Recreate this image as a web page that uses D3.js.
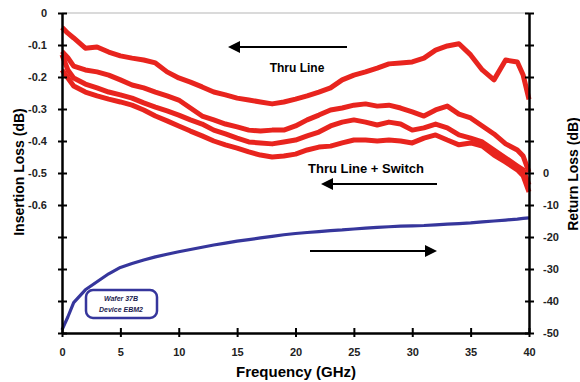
<!DOCTYPE html>
<html>
<head>
<meta charset="utf-8">
<script src="https://cdn.jsdelivr.net/npm/d3@7"></script>
<style>
  body { margin: 0; background: #fff; }
  svg { font-family: Arial, "Liberation Sans", sans-serif; }
</style>
</head>
<body>
<svg id="chart" width="580" height="382"></svg>
<script>
// частоти, ГГц
const freq = [0, 0.5, 1, 2, 3, 4, 5, 6, 7, 8, 9, 10, 11, 12, 13, 14, 15, 16, 17, 18, 19, 20,
  21, 22, 23, 24, 25, 26, 27, 28, 29, 30, 31, 32, 33, 34, 35, 36, 37, 38, 39, 39.5, 40];

// Insertion loss, dB (ліва вісь)
const thruLine = [-0.045, -0.063, -0.078, -0.11, -0.106, -0.122, -0.134, -0.141, -0.147, -0.156, -0.184,
  -0.203, -0.216, -0.231, -0.247, -0.256, -0.266, -0.272, -0.278, -0.284, -0.278, -0.269,
  -0.259, -0.247, -0.234, -0.209, -0.194, -0.184, -0.172, -0.159, -0.156, -0.153, -0.141,
  -0.116, -0.103, -0.096, -0.131, -0.178, -0.209, -0.147, -0.153, -0.194, -0.27];
const switchA = [-0.12, -0.14, -0.166, -0.178, -0.184, -0.194, -0.209, -0.225, -0.234, -0.247, -0.259,
  -0.272, -0.297, -0.322, -0.334, -0.347, -0.356, -0.366, -0.369, -0.366, -0.366, -0.353,
  -0.334, -0.319, -0.303, -0.297, -0.288, -0.284, -0.291, -0.288, -0.297, -0.309, -0.322,
  -0.303, -0.291, -0.316, -0.328, -0.353, -0.378, -0.409, -0.428, -0.447, -0.497];
const switchB = [-0.13, -0.178, -0.203, -0.222, -0.234, -0.247, -0.256, -0.266, -0.281, -0.294, -0.306,
  -0.319, -0.334, -0.347, -0.366, -0.378, -0.391, -0.403, -0.406, -0.409, -0.403, -0.397,
  -0.384, -0.372, -0.353, -0.341, -0.334, -0.341, -0.35, -0.341, -0.347, -0.366, -0.359,
  -0.347, -0.359, -0.381, -0.391, -0.403, -0.428, -0.453, -0.478, -0.49, -0.537];
const switchC = [-0.178, -0.203, -0.228, -0.247, -0.259, -0.269, -0.278, -0.288, -0.303, -0.322, -0.337,
  -0.353, -0.369, -0.384, -0.4, -0.412, -0.422, -0.434, -0.444, -0.45, -0.447, -0.441,
  -0.428, -0.419, -0.416, -0.406, -0.397, -0.397, -0.4, -0.397, -0.4, -0.406, -0.391,
  -0.381, -0.397, -0.412, -0.406, -0.416, -0.444, -0.466, -0.49, -0.509, -0.559];

// Return loss, dB (права вісь)
const returnLoss = [-49, -45, -40.5, -36.5, -34, -31.5, -29.5, -28.3, -27.2, -26.2, -25.4,
  -24.6, -23.9, -23.2, -22.5, -21.9, -21.3, -20.8, -20.3, -19.8, -19.3, -18.9,
  -18.6, -18.3, -18.0, -17.8, -17.5, -17.2, -17.0, -16.8, -16.6, -16.5, -16.4,
  -16.2, -16.0, -15.8, -15.6, -15.3, -15.0, -14.7, -14.4, -14.2, -14.0];

const xTicks = d3.range(0, 41, 5);
const leftTicks = d3.range(0, 11).map(i => -i / 10);
const rightTicks = d3.range(-50, 51, 10);

const svg = d3.select('#chart');
const red = '#e8241e';
const blue = '#36369c';

const xScale = d3.scaleLinear().domain([0, 40]).range([62, 529]);
const yLeft = d3.scaleLinear().domain([-1, 0]).range([333, 13]);
const yRight = d3.scaleLinear().domain([-50, 50]).range([333, 13]);

// верхня сіра лінія
svg.append('line')
  .attr('x1', 62).attr('x2', 529).attr('y1', 13).attr('y2', 13)
  .style('stroke', '#b5b5b5').style('stroke-width', 1.2);

// криві
const lineLeft = d3.line().x((d, i) => xScale(freq[i])).y(d => yLeft(d));
const lineRight = d3.line().x((d, i) => xScale(freq[i])).y(d => yRight(d));

[thruLine, switchA, switchB, switchC].forEach(series => {
  svg.append('path')
    .attr('d', lineLeft(series))
    .style('fill', 'none')
    .style('stroke', red)
    .style('stroke-width', 5)
    .style('stroke-linejoin', 'round');
});

svg.append('path')
  .attr('d', lineRight(returnLoss))
  .style('fill', 'none')
  .style('stroke', blue)
  .style('stroke-width', 3.2)
  .style('stroke-linejoin', 'round');

// осі
function styleAxis(g, a, b, vertical) {
  g.select('.domain').style('stroke', '#000').style('stroke-width', 2.5);
  g.selectAll('.tick line')
    .style('stroke', '#000').style('stroke-width', 2)
    .attr(vertical ? 'x1' : 'y1', a).attr(vertical ? 'x2' : 'y2', b);
  g.selectAll('.tick text')
    .style('font-size', '11px').style('font-weight', 'bold').style('fill', '#222');
}

const gBottom = svg.append('g')
  .attr('transform', 'translate(0,333)')
  .call(d3.axisBottom(xScale).tickValues(xTicks).tickSizeOuter(0).tickPadding(9));
styleAxis(gBottom, -5, 4, false);

const gLeft = svg.append('g')
  .attr('transform', 'translate(62,0)')
  .call(d3.axisLeft(yLeft).tickValues(leftTicks).tickSizeOuter(0).tickPadding(9)
    .tickFormat(d => d < -0.65 ? '' : (d === 0 ? '0' : d.toFixed(1))));
styleAxis(gLeft, -4, 5, true);

const gRight = svg.append('g')
  .attr('transform', 'translate(529,0)')
  .call(d3.axisRight(yRight).tickValues(rightTicks).tickSizeOuter(0).tickPadding(8)
    .tickFormat(d => d > 0 ? '' : String(d)));
styleAxis(gRight, -4, 5, true);

// підписи осей
svg.append('text')
  .attr('transform', 'translate(24,172) rotate(-90)')
  .attr('text-anchor', 'middle')
  .style('font-size', '14px').style('font-weight', 'bold')
  .text('Insertion Loss (dB)');

svg.append('text')
  .attr('transform', 'translate(578,174) rotate(-90)')
  .attr('text-anchor', 'middle')
  .style('font-size', '14px').style('font-weight', 'bold')
  .text('Return Loss (dB)');

svg.append('text')
  .attr('x', 296).attr('y', 377)
  .attr('text-anchor', 'middle')
  .style('font-size', '15px').style('font-weight', 'bold')
  .text('Frequency (GHz)');

// стрілки
function arrow(x1, x2, y) {
  const dir = x2 > x1 ? 1 : -1;
  svg.append('line')
    .attr('x1', x1).attr('x2', x2 - dir * 8).attr('y1', y).attr('y2', y)
    .style('stroke', '#000').style('stroke-width', 2);
  svg.append('path')
    .attr('d', `M${x2},${y} L${x2 - dir * 12},${y - 6} L${x2 - dir * 12},${y + 6} Z`)
    .style('fill', '#000');
}
arrow(347, 228, 47);
arrow(437, 321, 184);
arrow(310, 437, 251);

svg.append('text')
  .attr('x', 297).attr('y', 72)
  .attr('text-anchor', 'middle')
  .style('font-size', '12px').style('font-weight', 'bold')
  .text('Thru Line');

svg.append('text')
  .attr('x', 308).attr('y', 173)
  .style('font-size', '13px').style('font-weight', 'bold')
  .text('Thru Line + Switch');

// підпис пластини
svg.append('rect')
  .attr('x', 86).attr('y', 290).attr('width', 71).attr('height', 28).attr('rx', 7)
  .style('fill', '#fff').style('stroke', blue).style('stroke-width', 2.5);
svg.append('text')
  .attr('x', 121).attr('y', 301)
  .attr('text-anchor', 'middle')
  .style('font-size', '7px').style('font-weight', 'bold').style('font-style', 'italic').style('fill', '#1c1c50')
  .text('Wafer 37B');
svg.append('text')
  .attr('x', 121).attr('y', 312)
  .attr('text-anchor', 'middle')
  .style('font-size', '7px').style('font-weight', 'bold').style('font-style', 'italic').style('fill', '#1c1c50')
  .text('Device EBM2');
</script>
</body>
</html>
